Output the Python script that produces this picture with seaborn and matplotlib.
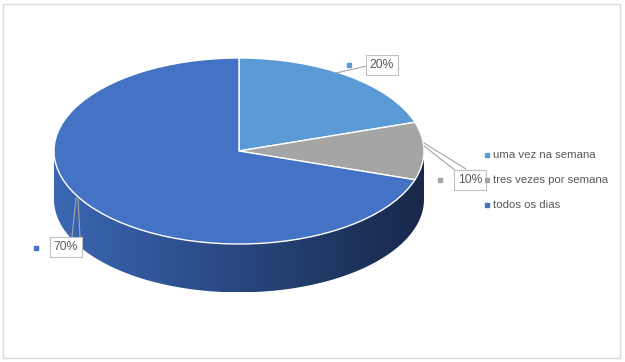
import numpy as np
import matplotlib
matplotlib.use("Agg")
import matplotlib.pyplot as plt
import seaborn as sns
from matplotlib.patches import Rectangle, Polygon
from matplotlib.colors import LinearSegmentedColormap

# ---- data ----
categories = ["uma vez na semana", "tres vezes por semana", "todos os dias"]
values = [20, 10, 70]
colors = ["#5B9BD5", "#A5A5A5", "#4472C4"]

sns.set_theme(style="white")
plt.rcParams['font.family'] = ['Liberation Sans', 'DejaVu Sans']
TXT = "#595959"
FS = 8.2

W, H = 625, 362
fig = plt.figure(figsize=(W / 100, H / 100), dpi=100)
ax = fig.add_axes([0, 0, 1, 1])

# pixel geometry of the ellipse (top face)
CX, CY, RX, RY = 239, 151, 185, 93
DEPTH = 0.52

def px(x, y):
    return ((x - CX) / RX, (CY - y) / RY)

# ---- side wall (front half), gradient ----
th = np.linspace(np.pi, 2 * np.pi, 200)
top = np.column_stack([np.cos(th), np.sin(th)])
bot = np.column_stack([np.cos(th[::-1]), np.sin(th[::-1]) - DEPTH])
side = Polygon(np.vstack([top, bot]), closed=True, facecolor="none",
               edgecolor="none", zorder=1)
ax.add_patch(side)
cmap = LinearSegmentedColormap.from_list(
    "side", ["#3B67B3", "#2E5192", "#223D6C", "#18284A"])
grad = np.linspace(0, 1, 256).reshape(1, -1)
im = ax.imshow(grad, cmap=cmap, extent=(-1, 1, -1 - DEPTH, 0),
               aspect="auto", zorder=1, interpolation="bicubic")
im.set_clip_path(side)

# ---- top face ----
ax.pie(values, colors=colors, startangle=90, counterclock=False,
       radius=1, center=(0, 0),
       wedgeprops=dict(edgecolor="white", linewidth=1.0, zorder=2))
ax.set_aspect("auto")
ax.set_xlim(-CX / RX, (W - CX) / RX)
ax.set_ylim((CY - H) / RY, CY / RY)
ax.axis("off")

# ---- data labels ----
box = dict(boxstyle="square,pad=0.3", facecolor="white",
           edgecolor="#BFBFBF", linewidth=0.8)
lab_pos = [(382, 65), (470, 180), (66, 247)]
mark_pos = [(349, 65), (440, 180), (36, 248)]
leaders = [
    [((336, 73), (367, 66))],
    [((424, 143), (466, 169)), ((424, 146), (456, 171))],
    [((76, 198), (72, 237)), ((78, 198), (80, 237))],
]
for v, c, lp, mp, ls in zip(values, colors, lab_pos, mark_pos, leaders):
    for (a, b) in ls:
        xa, ya = px(*a)
        xb, yb = px(*b)
        ax.plot([xa, xb], [ya, yb], color="#A6A6A6", lw=0.8, zorder=3)
    x, y = px(*lp)
    ax.text(x, y, f"{v}%", ha="center", va="center", fontsize=FS + 0.5,
            color=TXT, bbox=box, zorder=4)
    x, y = px(*mp)
    ax.plot([x], [y], marker="s", ms=3.2, color=c, mec=c, zorder=4)

# ---- legend ----
leg_y = [155, 180.5, 205]
for cat, c, ly in zip(categories, colors, leg_y):
    x, y = px(487, ly)
    ax.plot([x], [y], marker="s", ms=3.2, color=c, mec=c, zorder=4)
    x, y = px(493, ly)
    ax.text(x, y, cat, ha="left", va="center", fontsize=FS, color=TXT,
            zorder=4)

# ---- outer border ----
fig.patches.append(Rectangle((3 / W, 4 / H), 617 / W, 354 / H,
                             transform=fig.transFigure, fill=False,
                             edgecolor="#D9D9D9", linewidth=1.0))

fig.savefig("out.png", dpi=100, facecolor="white")
